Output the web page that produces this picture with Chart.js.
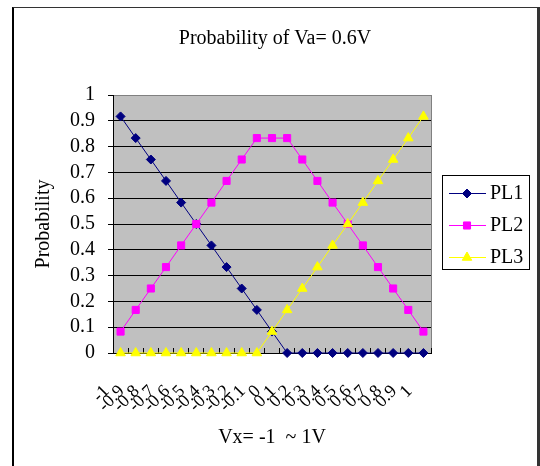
<!DOCTYPE html>
<html>
<head>
<meta charset="utf-8">
<script src="https://cdn.jsdelivr.net/npm/chart.js@4/dist/chart.umd.min.js"></script>
<style>
  body { margin: 0; background: #fff; }
  #wrap { position: relative; width: 540px; height: 466px; overflow: hidden; }
  #frame { position: absolute; left: 12px; top: 7px; width: 523px; height: 480px;
           border-left: 2px solid #000; border-top: 1px solid #333; border-right: 3px solid #333; }
  canvas { position: absolute; left: 0; top: 0; }
</style>
</head>
<body>
<div id="wrap">
  <canvas id="chart" width="540" height="466"></canvas>
  <div id="frame"></div>
</div>
<script>
const categories = ['-1', '-0.9', '-0.8', '-0.7', '-0.6', '-0.5', '-0.4', '-0.3', '-0.2', '-0.1',
  '0', '0.1', '0.2', '0.3', '0.4', '0.5', '0.6', '0.7', '0.8', '0.9', '1'];
const pl1 = [0.917, 0.833, 0.75, 0.667, 0.583, 0.5, 0.417, 0.333, 0.25, 0.167, 0.083,
  0, 0, 0, 0, 0, 0, 0, 0, 0, 0];
const pl2 = [0.083, 0.167, 0.25, 0.333, 0.417, 0.5, 0.583, 0.667, 0.75, 0.833, 0.833,
  0.833, 0.75, 0.667, 0.583, 0.5, 0.417, 0.333, 0.25, 0.167, 0.083];
const pl3 = [0, 0, 0, 0, 0, 0, 0, 0, 0, 0, 0.083,
  0.167, 0.25, 0.333, 0.417, 0.5, 0.583, 0.667, 0.75, 0.833, 0.917];
const yTickLabels = ['0', '0.1', '0.2', '0.3', '0.4', '0.5', '0.6', '0.7', '0.8', '0.9', '1'];

const serif = 'Liberation Serif';
const font = size => ({family: serif, size: size});

// grey plot area like the old spreadsheet charts
const plotBackground = {
  id: 'plotBackground',
  beforeDraw(chart) {
    const {ctx, chartArea: a} = chart;
    ctx.save();
    ctx.fillStyle = '#c0c0c0';
    ctx.fillRect(a.left, a.top, a.right - a.left, a.bottom - a.top);
    ctx.strokeStyle = '#808080';
    ctx.lineWidth = 1;
    ctx.strokeRect(a.left + 0.5, a.top + 0.5, a.right - a.left, a.bottom - a.top);
    ctx.restore();
  }
};

// legend box with line + marker samples
const boxLegend = {
  id: 'boxLegend',
  afterDraw(chart) {
    const {ctx} = chart;
    const x = 442, y = 175, w = 87, h = 94;
    ctx.save();
    ctx.fillStyle = '#fff';
    ctx.fillRect(x, y, w, h);
    ctx.strokeStyle = '#000';
    ctx.lineWidth = 1;
    ctx.strokeRect(x + 0.5, y + 0.5, w, h);
    chart.data.datasets.forEach((ds, i) => {
      const ry = y + 18 + i * 32;
      ctx.strokeStyle = ds.borderColor;
      ctx.lineWidth = 1;
      ctx.beginPath();
      ctx.moveTo(449, ry + 0.5);
      ctx.lineTo(486, ry + 0.5);
      ctx.stroke();
      ctx.fillStyle = ds.pointBackgroundColor;
      ctx.strokeStyle = ds.pointBorderColor;
      Chart.helpers.drawPoint(ctx, {pointStyle: ds.pointStyle, radius: ds.pointRadius, rotation: 0, borderWidth: 1}, 467, ry + 0.5);
      ctx.fillStyle = '#000';
      ctx.font = '20px "' + serif + '"';
      ctx.textBaseline = 'middle';
      ctx.textAlign = 'left';
      ctx.fillText(ds.label, 490, ry + 1);
    });
    ctx.restore();
  }
};

new Chart(document.getElementById('chart'), {
  type: 'line',
  data: {
    labels: categories,
    datasets: [{
      label: 'PL1',
      data: pl1,
      borderColor: '#000080',
      pointBackgroundColor: '#000080',
      pointBorderColor: '#000080',
      pointStyle: 'rectRot',
      pointRadius: 4.5,
      order: 3
    }, {
      label: 'PL2',
      data: pl2,
      borderColor: '#ff00ff',
      pointBackgroundColor: '#ff00ff',
      pointBorderColor: '#ff00ff',
      pointStyle: 'rect',
      pointRadius: 5,
      order: 2
    }, {
      label: 'PL3',
      data: pl3,
      borderColor: '#ffff00',
      pointBackgroundColor: '#ffff00',
      pointBorderColor: '#ffff00',
      pointStyle: 'triangle',
      pointRadius: 5.5,
      order: 1
    }]
  },
  options: {
    responsive: false,
    animation: false,
    layout: {padding: {left: 10, right: 0, top: 0, bottom: 0}},
    datasets: {
      line: {borderWidth: 1, pointBorderWidth: 1, clip: false, yAxisID: 'y'}
    },
    plugins: {
      legend: {display: false},
      tooltip: {enabled: false},
      title: {
        display: true,
        text: 'Probability of Va= 0.6V',
        color: '#000',
        font: {family: serif, size: 20, weight: 'normal'},
        padding: {top: 27, bottom: 44}
      }
    },
    scales: {
      x: {
        type: 'category',
        offset: true,
        grid: {offset: true, drawOnChartArea: false, drawTicks: true, tickLength: -5, color: '#000'},
        border: {color: '#000'},
        ticks: {autoSkip: false, maxRotation: 45, minRotation: 45, color: '#000', font: font(18), padding: 33, labelOffset: -14},
        title: {display: true, text: 'Vx= -1  ~ 1V', color: '#000', font: font(20), padding: {top: 0, bottom: 16}},
        afterFit: s => { s.height = 113; }
      },
      y: {
        min: 0,
        max: 1,
        ticks: {stepSize: 0.1, autoSkip: false, color: '#000', font: font(20), padding: 13, callback: (v, i) => yTickLabels[i]},
        grid: {color: c => c.tick && c.tick.value >= 1 ? '#808080' : '#000', tickColor: '#000', tickLength: 5},
        border: {color: '#000'},
        title: {display: true, text: 'Probability', color: '#000', font: font(20), padding: {top: 22, bottom: 0}},
        afterFit: s => { s.width = 103; }
      },
      side: {
        position: 'right',
        min: 0,
        max: 1,
        ticks: {display: false},
        grid: {display: false},
        border: {display: false},
        afterFit: s => { s.width = 109; }
      }
    }
  },
  plugins: [plotBackground, boxLegend]
});
</script>
</body>
</html>
